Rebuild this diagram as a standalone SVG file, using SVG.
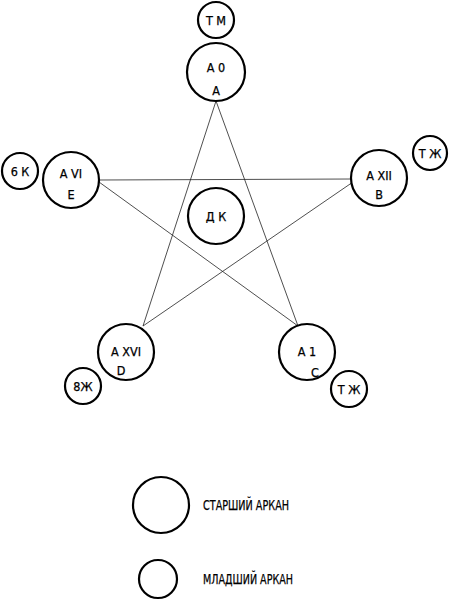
<svg xmlns="http://www.w3.org/2000/svg" width="452" height="600" viewBox="0 0 452 600">
<style>
.c{fill:#fff;stroke:#000;stroke-width:2.2}
.t{font-family:"DejaVu Sans Condensed","DejaVu Sans",sans-serif;font-size:12.5px;fill:#000;stroke:#000;stroke-width:0.25;text-anchor:middle}
.l{font-family:"DejaVu Sans Condensed","DejaVu Sans",sans-serif;font-size:14px;fill:#000;stroke:#000;stroke-width:0.25}
.e{stroke:#222;stroke-width:0.8;fill:none}
</style>
<rect width="452" height="600" fill="#fff"/>
<g id="connectors">
<line class="e" x1="216" y1="101" x2="143" y2="326"/>
<line class="e" x1="216" y1="101" x2="298" y2="326"/>
<line class="e" x1="99" y1="180" x2="352" y2="179"/>
<line class="e" x1="99" y1="182" x2="298" y2="326"/>
<line class="e" x1="353" y1="182" x2="143" y2="326"/>
</g>
<g id="tm"><circle class="c" cx="216" cy="20" r="18"/><text class="t" x="216" y="25">Т М</text></g>
<g id="a0"><circle class="c" cx="216" cy="72" r="29"/><text class="t" x="216" y="72">А 0</text><text class="t" x="216" y="95">А</text></g>
<g id="k6"><circle class="c" cx="20" cy="171" r="18"/><text class="t" x="20" y="176">6 К</text></g>
<g id="a6"><circle class="c" cx="71" cy="180" r="28"/><text class="t" x="71" y="178">А VI</text><text class="t" x="71" y="199">Е</text></g>
<g id="a12"><circle class="c" cx="379" cy="178" r="28"/><text class="t" x="379" y="180">А XII</text><text class="t" x="379" y="199">В</text></g>
<g id="tzh1"><circle class="c" cx="430" cy="153" r="17"/><text class="t" x="430" y="158">Т Ж</text></g>
<g id="dk"><circle class="c" cx="216" cy="216" r="28"/><text class="t" x="216" y="221">Д К</text></g>
<g id="a16"><circle class="c" cx="126" cy="352" r="28"/><text class="t" x="126" y="356">А XVI</text><text class="t" x="121" y="375">D</text></g>
<g id="zh8"><circle class="c" cx="83" cy="386" r="18"/><text class="t" x="83" y="391">8Ж</text></g>
<g id="a1"><circle class="c" cx="307" cy="352" r="28"/><text class="t" x="307" y="356">А 1</text><text class="t" x="315" y="377">С</text></g>
<g id="tzh2"><circle class="c" cx="349" cy="389" r="18"/><text class="t" x="349" y="394">Т Ж</text></g>
<g id="legend-major"><circle class="c" cx="161" cy="505" r="28"/><text class="l" x="203" y="510" textLength="86" lengthAdjust="spacingAndGlyphs">СТАРШИЙ АРКАН</text></g>
<g id="legend-minor"><circle class="c" cx="158" cy="579" r="19"/><text class="l" x="203" y="584" textLength="90" lengthAdjust="spacingAndGlyphs">МЛАДШИЙ АРКАН</text></g>
</svg>
